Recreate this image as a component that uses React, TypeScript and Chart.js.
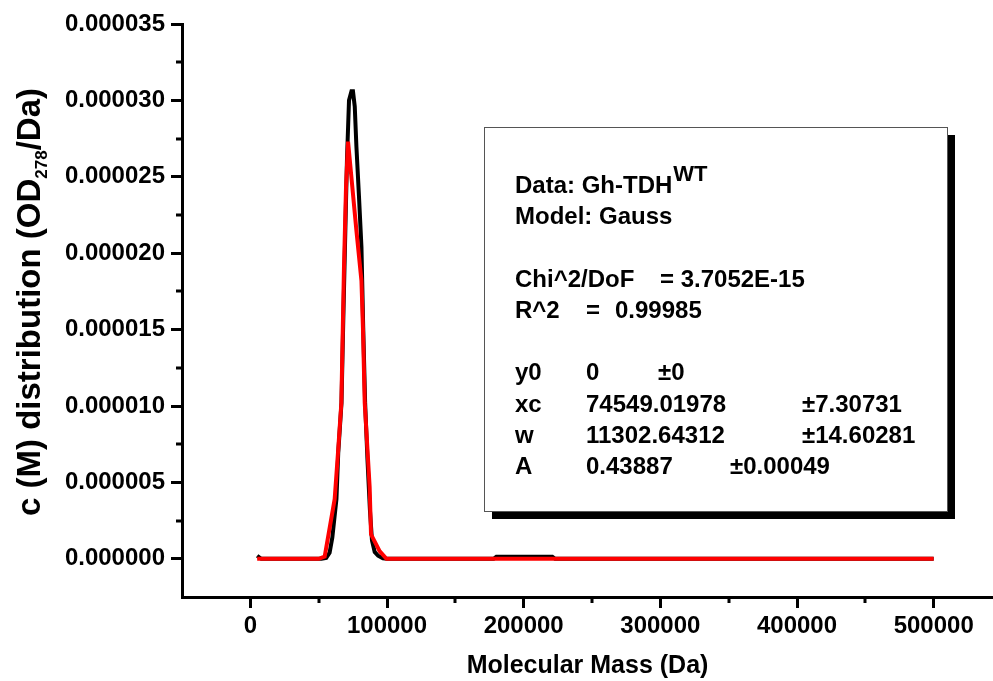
import React, { useEffect, useRef } from "react";
import { Chart, registerables } from "chart.js";

Chart.register(...registerables);

const FAM = '"Liberation Sans", Arial, Helvetica, sans-serif';

// Measured c(M) distribution (black)
const dataMass = [
  5000, 8000, 52000, 55500, 58000, 60000, 63000, 64300, 66700, 68000, 70700, 72200, 74000, 75100,
  76400, 77600, 79500, 81300, 82600, 84000, 85700, 87500, 89000, 91000, 93500, 97000, 100000,
  178000, 180000, 221000, 223000, 500000,
];
const dataConc = [
  0.2e-6, 0, 0, 0.05e-6, 0.4e-6, 1.4e-6, 3.9e-6, 6.9e-6, 10.2e-6, 15.6e-6, 26.1e-6, 30.0e-6, 30.6e-6, 30.6e-6,
  29.6e-6, 27.0e-6, 23.7e-6, 20.4e-6, 15.1e-6, 10.2e-6, 6.5e-6, 3.2e-6, 1.2e-6, 0.45e-6, 0.2e-6, 0.03e-6, 0,
  0, 0.13e-6, 0.13e-6, 0, 0,
];

// Gauss fit (red)
const fitMass = [
  5000, 50000, 54400, 61700, 64100, 66600, 68500, 70000, 71500, 77600, 81300, 82400, 83700, 87300,
  88300, 94600, 99600, 500000,
];
const fitConc = [
  0, 0, 0.15e-6, 3.9e-6, 6.9e-6, 10.2e-6, 19.0e-6, 24.3e-6, 27.3e-6, 21.5e-6, 18.2e-6, 15.1e-6, 10.2e-6, 4.7e-6,
  1.6e-6, 0.5e-6, 0, 0,
];

const xMajorTicks = [0, 100000, 200000, 300000, 400000, 500000];
const xMinorTicks = [50000, 150000, 250000, 350000, 450000];
const yMajorTicks = [0, 5e-6, 10e-6, 15e-6, 20e-6, 25e-6, 30e-6, 35e-6];
const yMinorTicks = [2.5e-6, 7.5e-6, 12.5e-6, 17.5e-6, 22.5e-6, 27.5e-6, 32.5e-6];

const X_MIN = -50000;
const X_MAX = 543400;
const Y_MIN = -2.5e-6;
const Y_MAX = 35e-6;

const minorTickPlugin = {
  id: "minorTicks",
  afterDraw(chart: any) {
    const { ctx, chartArea, scales } = chart;
    ctx.save();
    ctx.strokeStyle = "#000";
    ctx.lineWidth = 3;
    ctx.beginPath();
    xMinorTicks.forEach((v) => {
      const px = Math.round(scales.x.getPixelForValue(v));
      ctx.moveTo(px, chartArea.bottom);
      ctx.lineTo(px, chartArea.bottom + 6);
    });
    yMinorTicks.forEach((v) => {
      const py = Math.round(scales.y.getPixelForValue(v));
      ctx.moveTo(chartArea.left, py);
      ctx.lineTo(chartArea.left - 6, py);
    });
    ctx.stroke();
    ctx.restore();
  },
};

const yTitlePlugin = {
  id: "yTitle",
  afterDraw(chart: any) {
    const { ctx } = chart;
    ctx.save();
    const main = `bold 33px ${FAM}`;
    const sub = `bold 17px ${FAM}`;
    const parts = [
      { t: "c (M) distribution (OD", f: main, dy: 0 },
      { t: "278", f: sub, dy: 7 },
      { t: "/Da)", f: main, dy: 0 },
    ];
    let total = 0;
    const widths = parts.map((p) => {
      ctx.font = p.f;
      const w = ctx.measureText(p.t).width;
      total += w;
      return w;
    });
    ctx.translate(40, 302);
    ctx.rotate(-Math.PI / 2);
    ctx.fillStyle = "#000";
    ctx.textBaseline = "alphabetic";
    ctx.textAlign = "left";
    let x = -total / 2;
    parts.forEach((p, i) => {
      ctx.font = p.f;
      ctx.fillText(p.t, x, p.dy);
      x += widths[i];
    });
    ctx.restore();
  },
};

const boxPlugin = {
  id: "fitBox",
  afterDraw(chart: any) {
    const { ctx } = chart;
    ctx.save();
    const L = 484, T = 127, W = 463, H = 384;
    ctx.fillStyle = "#000";
    ctx.fillRect(L + 8, T + 8, W, H);
    ctx.fillStyle = "#fff";
    ctx.fillRect(L, T, W, H);
    ctx.strokeStyle = "#555";
    ctx.lineWidth = 1;
    ctx.strokeRect(L + 0.5, T + 0.5, W, H);

    ctx.fillStyle = "#000";
    ctx.textBaseline = "alphabetic";
    ctx.textAlign = "left";
    const f = `bold 24px ${FAM}`;
    ctx.font = f;
    const put = (t: string, x: number, y: number) => ctx.fillText(t, x, y);
    const c1 = 515;
    put("Data: Gh-TDH", c1, 193);
    const w1 = ctx.measureText("Data: Gh-TDH").width;
    ctx.font = `bold 22px ${FAM}`;
    put("WT", c1 + w1 + 1, 181);
    ctx.font = f;
    put("Model: Gauss", c1, 224);
    put("Chi^2/DoF", c1, 287);
    put("= 3.7052E-15", 660, 287);
    put("R^2", c1, 318);
    put("=", 586, 318);
    put("0.99985", 615, 318);
    put("y0", c1, 380);
    put("0", 586, 380);
    put("\u00b10", 658, 380);
    put("xc", c1, 412);
    put("74549.01978", 586, 412);
    put("\u00b17.30731", 802, 412);
    put("w", c1, 443);
    put("11302.64312", 586, 443);
    put("\u00b114.60281", 802, 443);
    put("A", c1, 474);
    put("0.43887", 586, 474);
    put("\u00b10.00049", 730, 474);
    ctx.restore();
  },
};

export default function App() {
  const ref = useRef<HTMLCanvasElement | null>(null);

  useEffect(() => {
    if (!ref.current) return;
    const tickFont = { family: FAM, size: 24, weight: "bold" as const };
    const chart = new Chart(ref.current, {
      type: "line",
      data: {
        datasets: [
          {
            label: "Gauss fit",
            data: fitMass.map((x, i) => ({ x, y: fitConc[i] })),
            borderColor: "#ff0000",
            borderWidth: 4,
            pointRadius: 0,
            tension: 0,
            fill: false,
          },
          {
            label: "c(M)",
            data: dataMass.map((x, i) => ({ x, y: dataConc[i] })),
            borderColor: "#000000",
            borderWidth: 4,
            pointRadius: 0,
            tension: 0,
            fill: false,
          },
        ],
      },
      options: {
        animation: false,
        responsive: false,
        maintainAspectRatio: false,
        layout: { padding: { top: 24, left: 0, right: 0, bottom: 0 } },
        plugins: { legend: { display: false }, tooltip: { enabled: false } },
        scales: {
          x: {
            type: "linear",
            min: X_MIN,
            max: X_MAX,
            afterBuildTicks: (s: any) => {
              s.ticks = xMajorTicks.map((v) => ({ value: v }));
            },
            afterFit: (s: any) => {
              s.height = 84;
            },
            grid: {
              drawOnChartArea: false,
              drawTicks: true,
              tickLength: 11,
              tickWidth: 3,
              tickColor: "#000",
            },
            border: { display: true, width: 3, color: "#000" },
            ticks: {
              color: "#000",
              font: tickFont,
              padding: 4,
              maxRotation: 0,
              autoSkip: false,
              callback: (v: any) => String(v),
            },
            title: {
              display: true,
              text: "Molecular Mass (Da)",
              color: "#000",
              font: { family: FAM, size: 25, weight: "bold" },
              padding: { top: 0, bottom: 0 },
            },
          },
          y: {
            type: "linear",
            min: Y_MIN,
            max: Y_MAX,
            afterBuildTicks: (s: any) => {
              s.ticks = yMajorTicks.map((v) => ({ value: v }));
            },
            afterFit: (s: any) => {
              s.width = 182;
            },
            grid: {
              drawOnChartArea: false,
              drawTicks: true,
              tickLength: 11,
              tickWidth: 3,
              tickColor: "#000",
            },
            border: { display: true, width: 3, color: "#000" },
            ticks: {
              color: "#000",
              font: tickFont,
              padding: 6,
              autoSkip: false,
              callback: (v: any) => Number(v).toFixed(6),
            },
          },
        },
      },
      plugins: [minorTickPlugin, yTitlePlugin, boxPlugin],
    });
    return () => chart.destroy();
  }, []);

  return (
    <div style={{ position: "absolute", left: 0, top: 0, width: 993, height: 681, background: "#fff" }}>
      <canvas ref={ref} width={993} height={681} style={{ width: 993, height: 681, display: "block" }} />
    </div>
  );
}
